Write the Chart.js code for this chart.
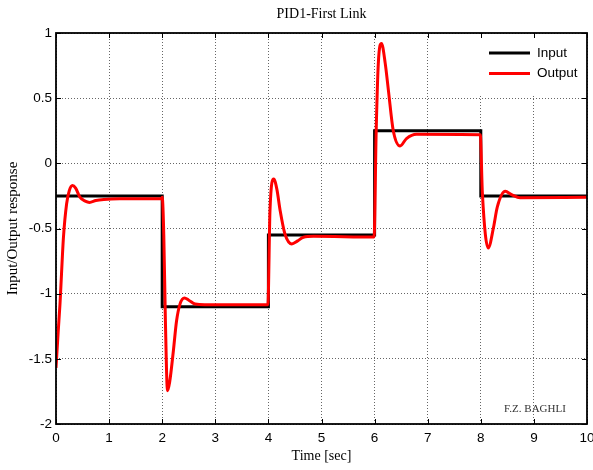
<!DOCTYPE html>
<html>
<head>
<meta charset="utf-8">
<script src="https://cdn.jsdelivr.net/npm/chart.js@4.4.1/dist/chart.umd.min.js"></script>
<style>
  html, body { margin: 0; padding: 0; background: #fff; }
  #wrap { width: 593px; height: 470px; }
</style>
</head>
<body>
<div id="wrap"><canvas id="pidChart" width="593" height="470"></canvas></div>
<script>
// 축 눈금
const xTicks = [0, 1, 2, 3, 4, 5, 6, 7, 8, 9, 10];
const yTicks = [-2, -1.5, -1, -0.5, 0, 0.5, 1];
const yTickLabels = ['-2', '-1.5', '-1', '-0.5', '0', '0.5', '1'];

// Input (계단 입력)
const inputT = [0, 2, 4, 6, 8, 10];
const inputY = [-0.25, -1.1, -0.55, 0.25, -0.25, -0.25];

// Output (PID 응답)
const outputT = [0, 0.04, 0.075, 0.14, 0.2, 0.25, 0.31, 0.37, 0.45, 0.55, 0.63, 0.75, 0.9, 1.2, 1.99,
  2.0, 2.03, 2.06, 2.1, 2.14, 2.21, 2.27, 2.335, 2.42, 2.5, 2.62, 2.8, 3.99,
  4.03, 4.1, 4.16, 4.22, 4.31, 4.44, 4.55, 4.66, 4.85, 5.99,
  6.03, 6.07, 6.13, 6.2, 6.26, 6.35, 6.48, 6.6, 6.79, 7.99,
  8.03, 8.14, 8.24, 8.31, 8.46, 8.58, 8.74, 10];
const outputY = [-1.57, -1.3, -1.08, -0.57, -0.31, -0.21, -0.17, -0.19, -0.26, -0.29, -0.30, -0.285, -0.277, -0.272, -0.27,
  -0.26, -0.55, -1.2, -1.745, -1.68, -1.44, -1.21, -1.08, -1.033, -1.05, -1.08, -1.085, -1.085,
  -0.36, -0.12, -0.2, -0.36, -0.54, -0.618, -0.595, -0.567, -0.56, -0.565,
  0.25, 0.767, 0.92, 0.767, 0.56, 0.254, 0.133, 0.19, 0.223, 0.22,
  -0.23, -0.65, -0.49, -0.336, -0.215, -0.24, -0.264, -0.26];

const legendItems = [
  { label: 'Input', color: '#000000' },
  { label: 'Output', color: '#ff0000' },
];

const toPoints = (ts, ys) => ts.map((t, i) => ({ x: t, y: ys[i] }));

// 프레임, 안쪽 눈금, 범례, 서명
const matlabFrame = {
  id: 'matlabFrame',
  afterDraw(chart) {
    const { ctx, chartArea: a, scales } = chart;
    ctx.save();

    // legend box
    ctx.fillStyle = '#fff';
    ctx.fillRect(a.right - 108, a.top + 1, 107, 62);
    ctx.lineWidth = 3;
    legendItems.forEach((item, i) => {
      const y = a.top + 20 + i * 20.6;
      ctx.strokeStyle = item.color;
      ctx.beginPath();
      ctx.moveTo(a.right - 98, y);
      ctx.lineTo(a.right - 57, y);
      ctx.stroke();
      ctx.fillStyle = '#000';
      ctx.font = '13.5px "Liberation Sans", Arial, sans-serif';
      ctx.textAlign = 'left';
      ctx.textBaseline = 'middle';
      ctx.fillText(item.label, a.right - 50, y);
    });

    // signature
    ctx.fillStyle = '#333';
    ctx.font = '11px "Liberation Serif", "Times New Roman", serif';
    ctx.textAlign = 'center';
    ctx.fillText('F.Z. BAGHLI', a.right - 52, a.bottom - 14.5);

    // inward ticks
    ctx.strokeStyle = '#000';
    ctx.lineWidth = 1;
    const tl = 5;
    xTicks.forEach(v => {
      const px = Math.round(scales.x.getPixelForValue(v)) + 0.5;
      ctx.beginPath();
      ctx.moveTo(px, a.top); ctx.lineTo(px, a.top + tl);
      ctx.moveTo(px, a.bottom); ctx.lineTo(px, a.bottom - tl);
      ctx.stroke();
    });
    yTicks.forEach(v => {
      const py = Math.round(scales.y.getPixelForValue(v)) + 0.5;
      ctx.beginPath();
      ctx.moveTo(a.left, py); ctx.lineTo(a.left + tl, py);
      ctx.moveTo(a.right, py); ctx.lineTo(a.right - tl, py);
      ctx.stroke();
    });

    // box
    ctx.lineWidth = 1.8;
    ctx.strokeRect(a.left, a.top, a.right - a.left, a.bottom - a.top);
    ctx.restore();
  }
};

const gridStyle = {
  color: '#666',
  lineWidth: 1,
  drawTicks: false,
};

new Chart(document.getElementById('pidChart').getContext('2d'), {
  type: 'line',
  data: {
    datasets: [
      {
        label: 'Input',
        data: toPoints(inputT, inputY),
        borderColor: '#000000',
        borderWidth: 3,
        stepped: true,
        pointRadius: 0,
        order: 1,
      },
      {
        label: 'Output',
        data: toPoints(outputT, outputY),
        borderColor: '#ff0000',
        borderWidth: 3,
        cubicInterpolationMode: 'monotone',
        pointRadius: 0,
        order: 0,
      },
    ],
  },
  options: {
    responsive: false,
    animation: false,
    events: [],
    layout: { padding: { top: 0, right: 6, left: 0, bottom: 0 } },
    plugins: {
      legend: { display: false },
      tooltip: { enabled: false },
      title: {
        display: true,
        text: 'PID1-First Link',
        fullSize: false,
        color: '#000',
        font: { family: '"Liberation Serif", "Times New Roman", serif', size: 14, weight: 'normal', lineHeight: 1.2 },
        padding: { top: 6, bottom: 10.2 },
      },
    },
    scales: {
      x: {
        type: 'linear',
        min: 0,
        max: 10,
        afterBuildTicks: s => { s.ticks = xTicks.map(v => ({ value: v })); },
        afterFit: s => { s.height = 46; s.paddingLeft = 0; s.paddingRight = 0; },
        grid: gridStyle,
        border: { display: false, dash: [1, 2] },
        ticks: {
          color: '#000',
          padding: 6,
          maxRotation: 0,
          font: { family: '"Liberation Sans", Arial, sans-serif', size: 13.5 },
          callback: v => String(v),
        },
        title: {
          display: true,
          text: 'Time [sec]',
          color: '#000',
          font: { family: '"Liberation Serif", "Times New Roman", serif', size: 14, lineHeight: 1.2 },
          padding: { top: 0, bottom: 5.6 },
        },
      },
      y: {
        type: 'linear',
        min: -2,
        max: 1,
        afterBuildTicks: s => { s.ticks = yTicks.map(v => ({ value: v })); },
        afterFit: s => { s.width = 56; s.paddingTop = 0; s.paddingBottom = 0; },
        grid: gridStyle,
        border: { display: false, dash: [1, 2] },
        ticks: {
          color: '#000',
          padding: 4,
          font: { family: '"Liberation Sans", Arial, sans-serif', size: 13.5 },
          callback: v => yTickLabels[yTicks.indexOf(v)],
        },
        title: {
          display: true,
          text: 'Input/Output response',
          color: '#000',
          font: { family: '"Liberation Serif", "Times New Roman", serif', size: 15, lineHeight: 1.2 },
          padding: { top: 4, bottom: 0 },
        },
      },
    },
  },
  plugins: [matlabFrame],
});
</script>
</body>
</html>
